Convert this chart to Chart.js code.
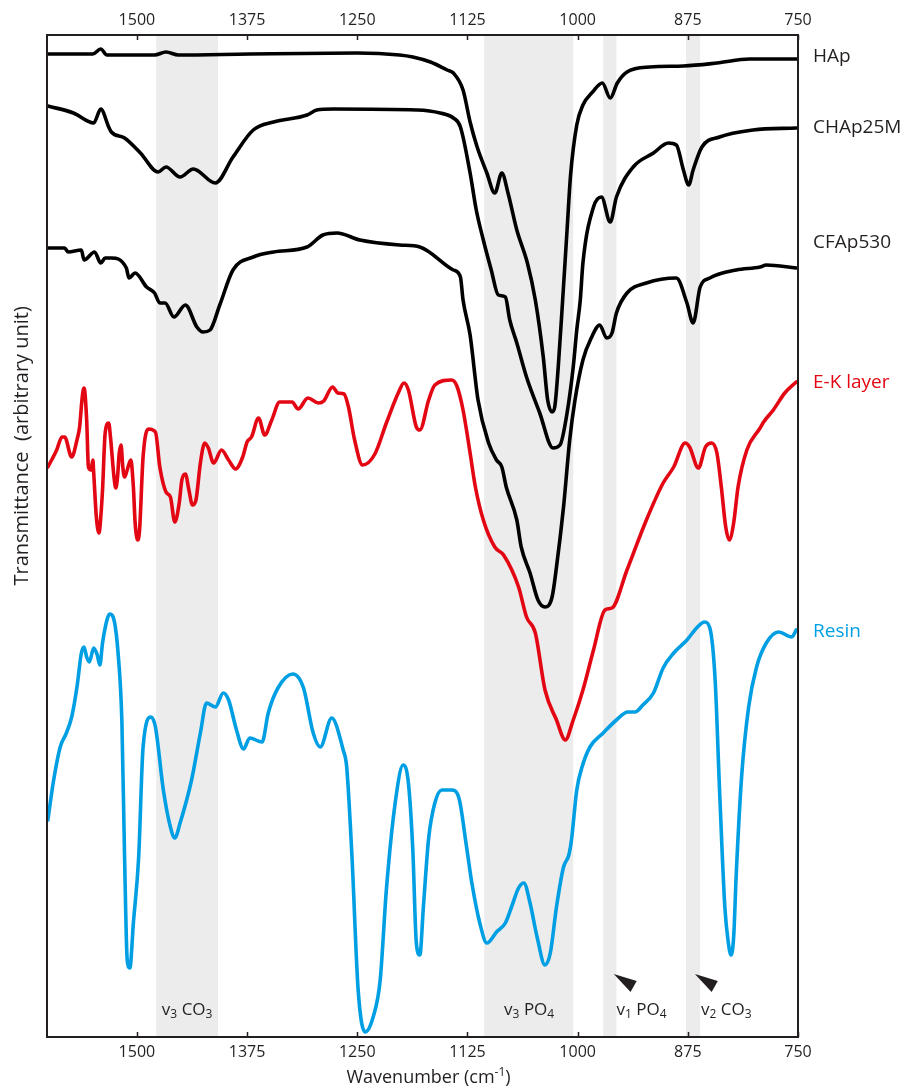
<!DOCTYPE html>
<html>
<head>
<meta charset="utf-8">
<title>FTIR spectra</title>
<script src="https://cdn.jsdelivr.net/npm/chart.js@4.4.1/dist/chart.umd.min.js"></script>
<style>
  html, body { margin: 0; padding: 0; background: #fff; }
  #wrap { width: 916px; height: 1088px; }
</style>
</head>
<body>
<div id="wrap"><canvas id="ftirChart" width="916" height="1088"></canvas></div>
<script>
// Wavenumber ticks (cm-1), same on the top and bottom axis
const xTicks = [1500, 1375, 1250, 1125, 1000, 875, 750];

// Spectra: wavenumber (cm-1) and offset transmittance (arbitrary unit)
const hapWn = [1601,1550,1541,1534,1480,1467,1453,1372,1250,1202,1187,1167,1148,1141,1130,1122,1114,1103,1094,1086,1079,1069,1057,1048,1039,1034,1029,1026,1022,1017,1012,1008,1001,994,983,972,963,955,944,918,880,842,805,751];
const hapT = [983,983,988,982,982,985,982,983,984,982,980,975,967,964,947,915,890,864,844,864,844,807,774,737,680,637,625,630,670,737,807,862,912,932,945,954,939,954,965,970,971,974,978,978];

const chap25Wn = [1601,1572,1549,1541,1532,1529,1514,1496,1476,1467,1451,1436,1411,1391,1368,1345,1307,1296,1277,1182,1156,1141,1133,1122,1115,1107,1098,1090,1082,1077,1069,1058,1043,1028,1020,1012,1005,1001,997,994,982,973,963,956,937,914,897,888,880,874,869,859,839,801,752];
const chap25T = [931,924,914,928,910,905,899,884,865,870,860,868,854,880,907,915,922,927,928,927,924,919,910,864,827,797,767,742,740,717,694,660,624,589,592,624,670,707,737,774,830,840,815,840,870,884,894,892,867,852,867,890,900,907,909];

const cfap530Wn = [1601,1582,1578,1563,1560,1548,1541,1536,1529,1512,1509,1502,1489,1480,1474,1468,1458,1445,1432,1425,1417,1406,1391,1368,1345,1307,1289,1273,1247,1202,1179,1141,1133,1130,1122,1113,1101,1092,1086,1081,1069,1064,1054,1045,1037,1029,1024,1016,1009,1003,994,984,975,967,961,956,944,922,888,876,869,861,850,820,793,786,752];
const cfap530T = [789,789,785,787,777,785,774,779,779,769,759,764,750,744,734,734,720,732,710,705,707,732,767,780,785,790,802,804,797,792,790,767,760,737,702,637,594,577,570,550,517,490,464,437,430,440,470,530,597,637,677,700,712,699,704,724,744,754,759,734,714,750,759,767,770,772,769];

const ekWn = [1601,1591,1585,1582,1574,1568,1565,1562,1560,1557,1555,1552,1550,1549,1546,1543,1541,1539,1536,1532,1530,1526,1524,1522,1520,1518,1516,1514,1511,1507,1504,1502,1499,1497,1493,1487,1479,1474,1467,1462,1457,1452,1449,1445,1441,1437,1433,1428,1423,1419,1413,1404,1396,1388,1380,1375,1370,1362,1355,1347,1338,1324,1317,1306,1294,1288,1278,1272,1265,1260,1253,1244,1230,1217,1203,1197,1192,1183,1179,1169,1162,1143,1137,1130,1122,1116,1107,1094,1084,1067,1058,1048,1037,1024,1014,1005,994,982,969,961,944,922,903,891,878,873,863,855,848,842,837,832,828,823,818,808,793,789,778,765,752];
const ekT = [570,587,600,600,580,597,610,640,649,617,570,567,577,564,520,504,520,547,604,614,600,560,549,560,584,592,570,560,567,577,550,514,497,507,580,608,605,570,545,540,515,534,557,563,547,532,537,574,594,589,574,587,577,568,580,595,600,619,602,617,635,635,628,639,634,636,650,644,643,630,597,572,583,614,645,654,647,610,607,637,652,657,651,627,584,550,517,490,482,450,420,404,347,317,297,317,347,387,427,429,467,517,554,570,594,590,569,590,594,584,550,510,497,514,550,587,609,615,627,644,655];

const resinWn = [1601,1595,1587,1580,1574,1568,1563,1560,1557,1554,1549,1545,1542,1539,1534,1531,1527,1521,1517,1514,1511,1508,1504,1498,1493,1484,1479,1470,1462,1457,1451,1438,1428,1421,1411,1402,1396,1387,1379,1372,1358,1351,1340,1323,1311,1300,1292,1279,1266,1262,1256,1249,1241,1232,1224,1217,1207,1198,1192,1187,1183,1179,1175,1169,1162,1154,1143,1135,1126,1120,1111,1103,1092,1082,1075,1067,1061,1054,1046,1037,1031,1024,1016,1010,1007,1001,995,986,971,956,943,935,926,914,903,891,876,865,856,850,844,839,833,829,826,823,820,814,806,797,786,772,757,752];
const resinT = [217,254,290,304,320,350,384,390,380,375,389,382,372,394,417,423,420,380,314,180,77,69,114,180,290,320,310,247,210,199,214,257,304,334,330,344,337,307,288,299,295,324,349,363,349,304,290,319,287,270,180,47,5,20,57,147,234,272,254,187,94,82,130,199,234,247,247,240,190,154,114,94,105,114,130,149,154,134,100,72,84,130,170,182,197,247,270,290,304,317,325,325,332,344,369,384,397,409,415,409,357,247,130,94,82,100,164,260,330,370,394,405,400,407];

const seriesNames = ['HAp', 'CHAp25M', 'CFAp530', 'E-K layer', 'Resin'];
const seriesWn = [hapWn, chap25Wn, cfap530Wn, ekWn, resinWn];
const seriesT = [hapT, chap25T, cfap530T, ekT, resinT];
const seriesColors = ['#000000', '#000000', '#000000', '#e30613', '#009fe3'];
const labelColors = ['#231f20', '#231f20', '#231f20', '#e30613', '#009fe3'];
// height of each series name at the right side (transmittance units)
const labelT = [980, 909, 794, 654, 405];

// Shaded absorption bands [from, to] in cm-1 and their labels
// (part flag 1 = subscript, 2 = superscript)
const bandRanges = [[1478, 1408], [1106, 1005], [971, 956], [877, 861]];
const bandLabels = [
  { wn: 1443, align: 'center', parts: [['v'], ['3', 1], [' CO'], ['3', 1]] },
  { wn: 1055, align: 'center', parts: [['v'], ['3', 1], [' PO'], ['4', 1]] },
  { wn: 956, align: 'left', parts: [['v'], ['1', 1], [' PO'], ['4', 1]] },
  { wn: 860, align: 'left', parts: [['v'], ['2', 1], [' CO'], ['3', 1]] }
];
const bandLabelT = 27;
// arrowheads above the v1 PO4 and v2 CO3 labels: [wn, T] corners
const arrowHeads = [
  [[959, 63], [933, 56], [940, 45]],
  [[867, 63], [841, 56], [848, 45]]
];

const FONT = '"Open Sans", "Noto Sans", sans-serif';
const TEXT = '#231f20';

function drawRich(ctx, parts, x, y, align, size) {
    const subSize = Math.round(size * 0.68);
    let total = 0;
    parts.forEach(p => {
        ctx.font = (p[1] ? subSize : size) + 'px ' + FONT;
        total += ctx.measureText(p[0]).width;
    });
    let cx = align === 'center' ? x - total / 2 : (align === 'right' ? x - total : x);
    ctx.textAlign = 'left';
    ctx.textBaseline = 'middle';
    parts.forEach(p => {
        ctx.font = (p[1] ? subSize : size) + 'px ' + FONT;
        let dy = 0;
        if (p[1] === 1) dy = size * 0.28;
        if (p[1] === 2) dy = -size * 0.3;
        ctx.fillText(p[0], cx, y + dy);
        cx += ctx.measureText(p[0]).width;
    });
}

const decorPlugin = {
    id: 'decor',
    beforeDatasetsDraw(chart) {
        const { ctx, chartArea: a, scales } = chart;
        const x = scales.x;
        ctx.save();
        ctx.fillStyle = '#ececec';
        bandRanges.forEach(r => {
            const x1 = x.getPixelForValue(r[0]);
            const x2 = x.getPixelForValue(r[1]);
            ctx.fillRect(Math.min(x1, x2), a.top, Math.abs(x2 - x1), a.bottom - a.top);
        });
        ctx.restore();
    },
    afterDatasetsDraw(chart) {
        const { ctx, chartArea: a, scales } = chart;
        const x = scales.x, y = scales.y;
        ctx.save();

        // frame
        ctx.strokeStyle = '#231f20';
        ctx.lineWidth = 2;
        ctx.strokeRect(a.left, a.top, a.right - a.left, a.bottom - a.top);

        // inward ticks on top and bottom
        ctx.lineWidth = 1.5;
        xTicks.forEach(v => {
            const px = Math.round(x.getPixelForValue(v)) + 0.5;
            ctx.beginPath();
            ctx.moveTo(px, a.bottom);
            ctx.lineTo(px, a.bottom - 5);
            ctx.moveTo(px, a.top);
            ctx.lineTo(px, a.top + 5);
            ctx.stroke();
        });

        // band labels
        ctx.fillStyle = TEXT;
        bandLabels.forEach(b => {
            drawRich(ctx, b.parts, x.getPixelForValue(b.wn), y.getPixelForValue(bandLabelT), b.align, 17);
        });

        // arrowheads
        arrowHeads.forEach(tri => {
            ctx.beginPath();
            tri.forEach((p, i) => {
                const px = x.getPixelForValue(p[0]), py = y.getPixelForValue(p[1]);
                if (i === 0) ctx.moveTo(px, py); else ctx.lineTo(px, py);
            });
            ctx.closePath();
            ctx.fill();
        });

        // series names
        ctx.font = '19px ' + FONT;
        ctx.textAlign = 'left';
        ctx.textBaseline = 'middle';
        seriesNames.forEach((name, i) => {
            ctx.fillStyle = labelColors[i];
            ctx.fillText(name, a.right + 15, y.getPixelForValue(labelT[i]));
        });

        // axis titles
        ctx.fillStyle = TEXT;
        drawRich(ctx, [['Wavenumber (cm'], ['-1', 2], [')']], (a.left + a.right) / 2 + 6, 1078, 'center', 18);
        ctx.translate(22, a.top + (a.bottom - a.top) * 0.41);
        ctx.rotate(-Math.PI / 2);
        ctx.font = '20px ' + FONT;
        ctx.textAlign = 'center';
        ctx.fillText('Transmittance  (arbitrary unit)', 0, 0);
        ctx.restore();
    }
};

function axisConfig(position, height, pad) {
    return {
        type: 'linear',
        position: position,
        reverse: true,
        min: 750,
        max: 1602,
        afterBuildTicks: function(scale) {
            scale.ticks = xTicks.map(v => ({ value: v }));
        },
        afterFit: function(scale) {
            scale.height = height;
        },
        grid: { display: false, drawTicks: false },
        border: { display: false },
        ticks: {
            color: TEXT,
            font: { family: FONT, size: 16 },
            padding: pad,
            maxRotation: 0,
            autoSkip: false,
            callback: function(value) {
                return String(value);
            }
        }
    };
}

const ctx = document.getElementById('ftirChart');
new Chart(ctx.getContext('2d'), {
    type: 'line',
    data: {
        datasets: seriesNames.map((name, i) => ({
            label: name,
            data: seriesWn[i].map((w, k) => ({ x: w, y: seriesT[i][k] })),
            borderColor: seriesColors[i],
            borderWidth: 3.6,
            borderJoinStyle: 'round',
            borderCapStyle: 'round',
            pointRadius: 0,
            cubicInterpolationMode: 'monotone',
            fill: false
        }))
    },
    options: {
        responsive: false,
        animation: false,
        devicePixelRatio: 1,
        layout: { padding: { left: 47, right: 118, top: 0, bottom: 0 } },
        plugins: {
            legend: { display: false },
            tooltip: { enabled: false }
        },
        scales: {
            x: axisConfig('bottom', 51, 6),
            xTop: axisConfig('top', 35, 5),
            y: { display: false, min: 0, max: 1002 }
        }
    },
    plugins: [decorPlugin]
});
</script>
</body>
</html>
